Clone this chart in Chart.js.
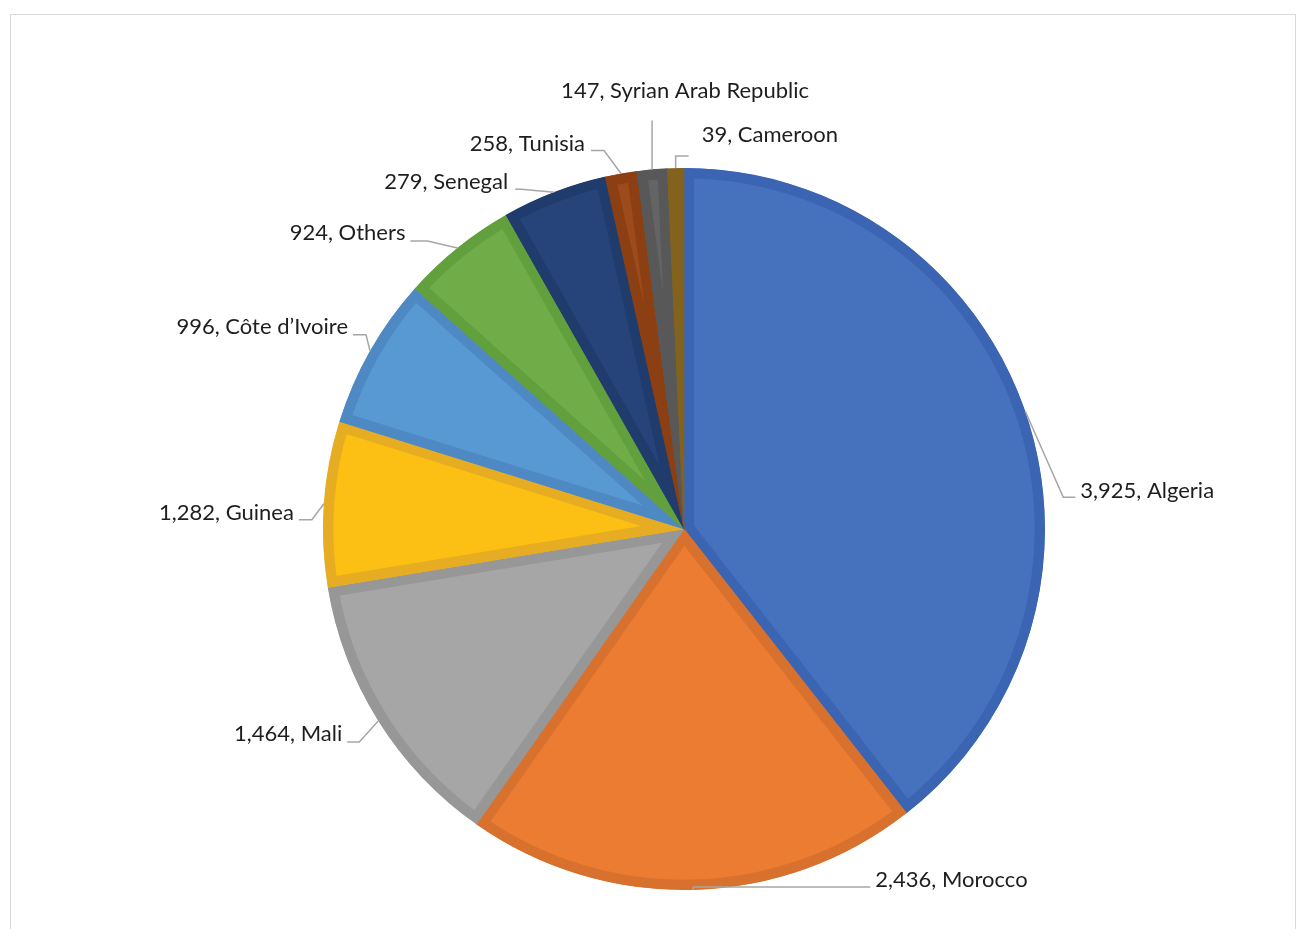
<!DOCTYPE html>
<html>
<head>
<meta charset="utf-8">
<script src="https://cdn.jsdelivr.net/npm/chart.js@4"></script>
<style>
  html, body { margin: 0; padding: 0; background: #fff; overflow: hidden; }
  #frame { position: absolute; left: 10px; top: 14px; width: 1286px; height: 940px; border: 1px solid #d9d9d9; box-sizing: border-box; }
  #wrap { position: absolute; left: 0; top: 0; width: 1306px; height: 929px; }
</style>
</head>
<body>
<div id="frame"></div>
<div id="wrap"><canvas id="pieChart" width="1306" height="929"></canvas></div>
<script>
// printed labels
var countries = ['Algeria', 'Morocco', 'Mali', 'Guinea', 'Côte d’Ivoire', 'Others', 'Senegal', 'Tunisia', 'Syrian Arab Republic', 'Cameroon'];
var counts = [3925, 2436, 1464, 1282, 996, 924, 279, 258, 147, 39];
// the drawn slices do not follow the printed counts, so their sizes are read off the picture (degrees)
var sliceDegrees = [141.95, 73.15, 45.57, 26.67, 24.46, 18.65, 16.95, 5.1, 4.85, 2.65];

var fills = ['#4571BD', '#EC7C31', '#A5A6A5', '#FCBF13', '#5999D3', '#70AC47', '#264479', '#9D4A1C', '#646464', '#8E6B23'];
var borders = ['#3B65B2', '#D8712D', '#979797', '#E6AD22', '#4E89C4', '#62A03E', '#1F3C6C', '#8C3F12', '#585858', '#83621E'];

// leader line layout, relative to the point on the rim at each slice's middle
// end: line end offset, elbow: horizontal run back from the end, text: offset from line end
var labelLayout = [
    { end: [50, 86], elbow: -12, text: [5, -6], align: 'left' },
    { end: [177, -3], elbow: -177, text: [5, -7], align: 'left' },
    { end: [-31, 21], elbow: 12, text: [-5, -8], align: 'right' },
    { end: [-25, 16], elbow: 13, text: [-5, -7], align: 'right' },
    { end: [-17, -16], elbow: 13, text: [-5, -8], align: 'right' },
    { end: [-47, -7], elbow: 17, text: [-5, -8], align: 'right' },
    { end: [-39, -3], elbow: 6, text: [-7, -7], align: 'right' },
    { end: [-30, -23], elbow: 13, text: [-6, -7], align: 'right' },
    { end: [0, -49], elbow: 0, text: [33, -30], align: 'center' },
    { end: [13, -12], elbow: -13, text: [13, -21], align: 'left' }
];

var leaderLabels = {
    id: 'leaderLabels',
    afterDatasetsDraw: function (chart) {
        var ctx = chart.ctx;
        var meta = chart.getDatasetMeta(0);
        ctx.save();
        ctx.font = '22px Lato';
        ctx.textBaseline = 'middle';
        meta.data.forEach(function (arc, i) {
            var p = arc.getProps(['x', 'y', 'startAngle', 'endAngle', 'outerRadius'], true);
            var mid = (p.startAngle + p.endAngle) / 2;
            var px = p.x + Math.cos(mid) * p.outerRadius;
            var py = p.y + Math.sin(mid) * p.outerRadius;
            var lay = labelLayout[i];
            var lx = px + lay.end[0];
            var ly = py + lay.end[1];
            ctx.strokeStyle = '#A6A6A6';
            ctx.lineWidth = 1.5;
            ctx.beginPath();
            ctx.moveTo(px, py);
            ctx.lineTo(lx + lay.elbow, ly);
            ctx.lineTo(lx, ly);
            ctx.stroke();
            ctx.fillStyle = '#1E1E1E';
            ctx.textAlign = lay.align;
            ctx.fillText(counts[i].toLocaleString('en-US') + ', ' + countries[i], lx + lay.text[0], ly + lay.text[1]);
        });
        ctx.restore();
    }
};

var ctx = document.getElementById('pieChart').getContext('2d');
var pieChart = new Chart(ctx, {
    type: 'pie',
    data: {
        labels: countries,
        datasets: [{
            data: sliceDegrees,
            backgroundColor: fills,
            borderColor: borders,
            borderWidth: 10,
            borderAlign: 'inner'
        }]
    },
    options: {
        responsive: false,
        animation: false,
        radius: 361,
        layout: { padding: { left: 300, right: 238, top: 160, bottom: 31 } },
        events: [],
        plugins: {
            legend: { display: false },
            tooltip: { enabled: false }
        }
    },
    plugins: [leaderLabels]
});
</script>
</body>
</html>
